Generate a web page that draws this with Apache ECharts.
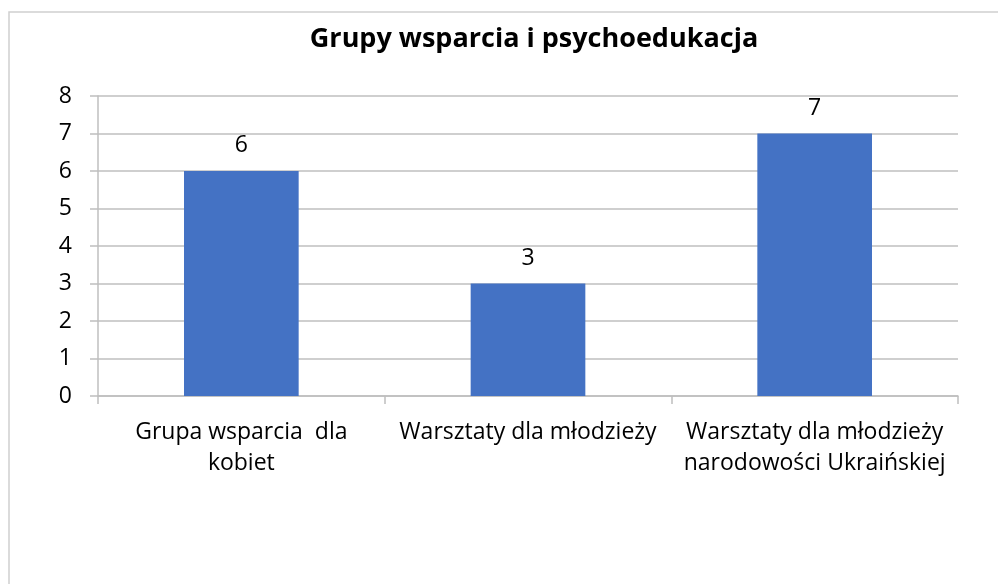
<!DOCTYPE html>
<html>
<head>
<meta charset="utf-8">
<script src="https://cdn.jsdelivr.net/npm/echarts@6/dist/echarts.min.js"></script>
<style>
  html, body { margin: 0; padding: 0; background: #fff; }
</style>
</head>
<body>

<div id="main" style="width: 998px;height:584px;"></div>

<script type="text/javascript">
    // dane wykresu
    var categories = ['Grupa wsparcia  dla\nkobiet', 'Warsztaty dla młodzieży', 'Warsztaty dla młodzieży\nnarodowości Ukraińskiej'];
    var values = [6, 3, 7];
    var yTicks = [0, 1, 2, 3, 4, 5, 6, 7, 8];

    var myChart = echarts.init(document.getElementById('main'));

    var font = '"Open Sans", "Noto Sans", sans-serif';

    var option = {
        backgroundColor: '#ffffff',
        // ramka wykresu
        graphic: [{
            type: 'rect',
            shape: { x: 9, y: 12, width: 1200, height: 800 },
            style: { fill: 'none', stroke: '#d0d0d0', lineWidth: 1.5 },
            silent: true
        }],
        title: {
            text: 'Grupy wsparcia i psychoedukacja',
            left: 529,
            top: 21,
            textAlign: 'center',
            textStyle: {
                fontFamily: font,
                fontWeight: 'bold',
                fontSize: 27,
                color: '#000'
            }
        },
        grid: {
            left: 98,
            right: 40,
            top: 96,
            bottom: 188
        },
        xAxis: {
            type: 'category',
            data: categories,
            axisLine: { lineStyle: { color: '#bfbfbf', width: 1.5 } },
            axisTick: { show: true, length: 8, lineStyle: { color: '#bfbfbf', width: 1.5 } },
            axisLabel: {
                interval: 0,
                hideOverlap: false,
                margin: 21,
                fontFamily: font,
                fontSize: 23,
                lineHeight: 31,
                color: '#000'
            }
        },
        yAxis: {
            type: 'value',
            min: yTicks[0],
            max: yTicks[yTicks.length - 1],
            interval: 1,
            axisLine: { show: true, lineStyle: { color: '#bfbfbf', width: 1.5 } },
            axisTick: { show: true, length: 8, lineStyle: { color: '#bfbfbf', width: 1.5 } },
            splitLine: { lineStyle: { color: '#bfbfbf', width: 1.5 } },
            axisLabel: {
                margin: 26,
                fontFamily: font,
                fontSize: 23,
                color: '#000'
            }
        },
        series: [{
            type: 'bar',
            data: values,
            barWidth: '40%',
            itemStyle: { color: '#4472c4' },
            label: {
                show: true,
                position: 'top',
                distance: 14,
                fontFamily: font,
                fontSize: 23,
                color: '#000'
            }
        }]
    };

    myChart.setOption(option);
</script>

</body>
</html>
